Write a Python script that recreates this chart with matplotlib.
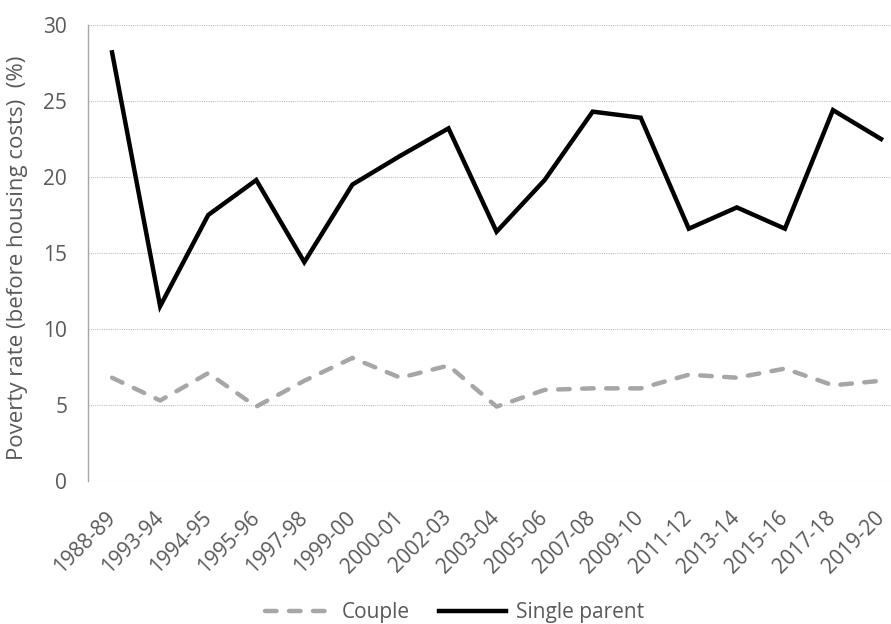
import matplotlib
matplotlib.use("Agg")
import matplotlib.pyplot as plt
from matplotlib.lines import Line2D

# 數據
years = ["1988-89", "1993-94", "1994-95", "1995-96", "1997-98", "1999-00",
         "2000-01", "2002-03", "2003-04", "2005-06", "2007-08", "2009-10",
         "2011-12", "2013-14", "2015-16", "2017-18", "2019-20"]
couple = [6.8, 5.3, 7.1, 4.9, 6.6, 8.1, 6.8, 7.6, 4.9, 6.0, 6.1, 6.1,
          7.0, 6.8, 7.4, 6.3, 6.6]
single_parent = [28.2, 11.5, 17.5, 19.8, 14.4, 19.5, 21.4, 23.2, 16.4, 19.8,
                 24.3, 23.9, 16.6, 18.0, 16.6, 24.4, 22.5]
y_ticks = [0, 5, 10, 15, 20, 25, 30]

plt.rcParams["font.family"] = ["Open Sans", "DejaVu Sans"]
text_color = "#595959"
grey = "#A6A6A6"
dash = (0, (2.6, 2.8))
fs = 15

fig = plt.figure(figsize=(8.91, 6.24), dpi=100)
ax = fig.add_axes([0.0988, 0.229, 0.917, 0.731])

x = range(len(years))
ax.plot(x, couple, color=grey, lw=3.2, linestyle=dash,
        dash_capstyle="round", label="Couple")
ax.plot(x, single_parent, color="black", lw=3.2, solid_joinstyle="miter",
        label="Single parent")

ax.set_xlim(-0.5, len(years) - 0.5)
ax.set_ylim(0, 30)
ax.set_yticks(y_ticks)
ax.set_xticks(list(x))
ax.set_xticklabels(years, rotation=45, ha="right", va="center",
                   rotation_mode="anchor")
ax.tick_params(axis="both", length=0, colors=text_color, labelsize=fs)
ax.tick_params(axis="y", pad=15)
ax.tick_params(axis="x", pad=24)

ax.grid(axis="y", color="#BFBFBF", linestyle=(0, (1, 1)), lw=0.8)
ax.set_axisbelow(True)
for side in ["top", "right", "bottom"]:
    ax.spines[side].set_visible(False)
ax.spines["left"].set_color(grey)
ax.spines["left"].set_linewidth(1)

ax.set_ylabel("Poverty rate (before housing costs)  (%)", color=text_color,
              fontsize=16)
ax.yaxis.set_label_coords(-0.073, 0.489)

handles = [
    Line2D([], [], color=grey, lw=3.2, linestyle=dash, dash_capstyle="round"),
    Line2D([], [], color="black", lw=3.2),
]
fig.legend(handles, ["Couple", "Single parent"], loc="center",
           bbox_to_anchor=(0.51, 0.018), ncol=2, frameon=False,
           fontsize=fs, handlelength=3.2, handletextpad=0.5,
           columnspacing=1.4, labelcolor=text_color)

plt.savefig("out.png", dpi=100)
